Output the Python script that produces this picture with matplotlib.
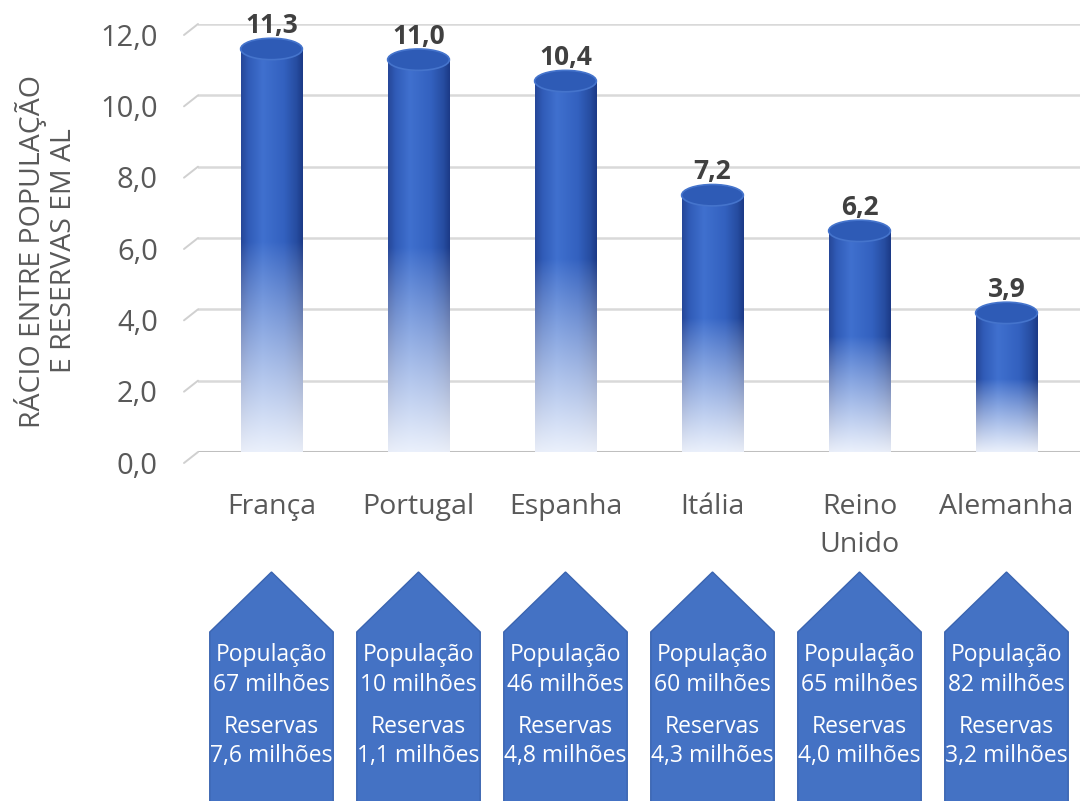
import matplotlib
matplotlib.use("Agg")
import matplotlib.pyplot as plt
import numpy as np
from matplotlib.patches import Ellipse, Polygon
from matplotlib.transforms import blended_transform_factory

plt.rcParams["font.family"] = ["Open Sans", "DejaVu Sans"]

# data
countries = ["França", "Portugal", "Espanha", "Itália", "Reino\nUnido", "Alemanha"]
ratio = [11.3, 11.0, 10.4, 7.2, 6.2, 3.9]
ratio_labels = ["11,3", "11,0", "10,4", "7,2", "6,2", "3,9"]
population = ["67 milhões", "10 milhões", "46 milhões", "60 milhões", "65 milhões", "82 milhões"]
reserves = ["7,6 milhões", "1,1 milhões", "4,8 milhões", "4,3 milhões", "4,0 milhões", "3,2 milhões"]
yticks = [0, 2, 4, 6, 8, 10, 12]
ytick_labels = ["0,0", "2,0", "4,0", "6,0", "8,0", "10,0", "12,0"]

W, H = 1088, 801
fig = plt.figure(figsize=(W / 100, H / 100), dpi=100)
ax = fig.add_axes([198 / W, 1 - 452 / H, (1080 - 198) / W, (452 - 24) / H])
for s in ax.spines.values():
    s.set_visible(False)
ax.set_xticks([])
ax.set_yticks([])

gray_txt = "#595959"
x = np.arange(len(countries))
bar_w = 0.42
cap_h = 0.6

# grid (back wall) with the small 3D floor stubs on the left
trans_y = blended_transform_factory(ax.transAxes, ax.transData)
for v in yticks:
    ax.axhline(v, color="#BFBFBF" if v == 0 else "#D9D9D9",
               lw=2.2 if v == 0 else 1.8, zorder=1)
    ax.annotate("", xy=(0, v), xycoords=trans_y, xytext=(-14, -11),
                textcoords="offset pixels",
                arrowprops=dict(arrowstyle="-", color="#D0D0D0", lw=1.4,
                                shrinkA=0, shrinkB=0))
for v, lab in zip(yticks, ytick_labels):
    ax.annotate(lab, xy=(0, v), xycoords=trans_y, xytext=(-40, -14),
                textcoords="offset pixels", ha="right", va="center",
                fontsize=21, color=gray_txt)


def cylinder_image(nx=64, ny=240):
    t = np.linspace(0, 1, nx)
    knots = [0.0, 0.12, 0.35, 0.7, 0.9, 1.0]
    cols = np.array([
        [0.15, 0.28, 0.60],
        [0.19, 0.36, 0.72],
        [0.25, 0.44, 0.81],
        [0.20, 0.38, 0.75],
        [0.15, 0.30, 0.63],
        [0.11, 0.23, 0.53],
    ])
    row = np.stack([np.interp(t, knots, cols[:, c]) for c in range(3)], axis=-1)
    f = np.linspace(0, 1, ny)[:, None, None]
    w = np.clip((0.52 - f) / 0.52, 0, 1) ** 0.9 * 0.93
    img = row[None, :, :] * (1 - w) + np.array([0.97, 0.98, 1.0]) * w
    return img


img = cylinder_image()
for xi, v in zip(x, ratio):
    ax.imshow(img, extent=(xi - bar_w / 2, xi + bar_w / 2, 0, v), origin="lower",
              aspect="auto", interpolation="bilinear", zorder=3)
    ax.add_patch(Ellipse((xi, v), bar_w, cap_h, facecolor="#2E5BB6",
                         edgecolor="#4574CC", lw=1.2, zorder=4))

for xi, v, lab in zip(x, ratio, ratio_labels):
    ax.annotate(lab, xy=(xi, v), xytext=(0, 16), textcoords="offset pixels",
                ha="center", va="baseline", fontsize=19, fontweight="bold",
                color="#404040")

# category labels
trans_cat = blended_transform_factory(ax.transData, fig.transFigure)
for xi, name in zip(x, countries):
    ax.text(xi, 1 - 493 / H, name, transform=trans_cat, ha="center", va="top",
            fontsize=20.5, color=gray_txt, linespacing=1.5)

ax.set_xlim(-0.5, len(countries) - 0.5)
ax.set_ylim(0, 12)

fig.text(46 / W, 1 - 251 / H, "RÁCIO ENTRE POPULAÇÃO\nE RESERVAS EM AL", rotation=90,
         ha="center", va="center", multialignment="center", fontsize=20.5,
         color=gray_txt, linespacing=1.15)

# pentagon arrows with population / reserves
half = 0.42
y_apex, y_sh, y_bot = 1 - 572 / H, 1 - 632 / H, -0.02
for xi, pop, res in zip(x, population, reserves):
    shape = Polygon([(xi - half, y_bot), (xi - half, y_sh), (xi, y_apex),
                     (xi + half, y_sh), (xi + half, y_bot)], closed=True,
                    transform=trans_cat, facecolor="#4472C4", edgecolor="#3A64B0",
                    lw=1.0, clip_on=False, zorder=2)
    ax.add_patch(shape)
    for ty, txt in zip([655, 685, 727, 756], ["População", pop, "Reservas", res]):
        ax.text(xi, 1 - ty / H, txt, transform=trans_cat, ha="center", va="center",
                fontsize=16.5, color="white", zorder=5)

fig.savefig("out.png", dpi=100)
